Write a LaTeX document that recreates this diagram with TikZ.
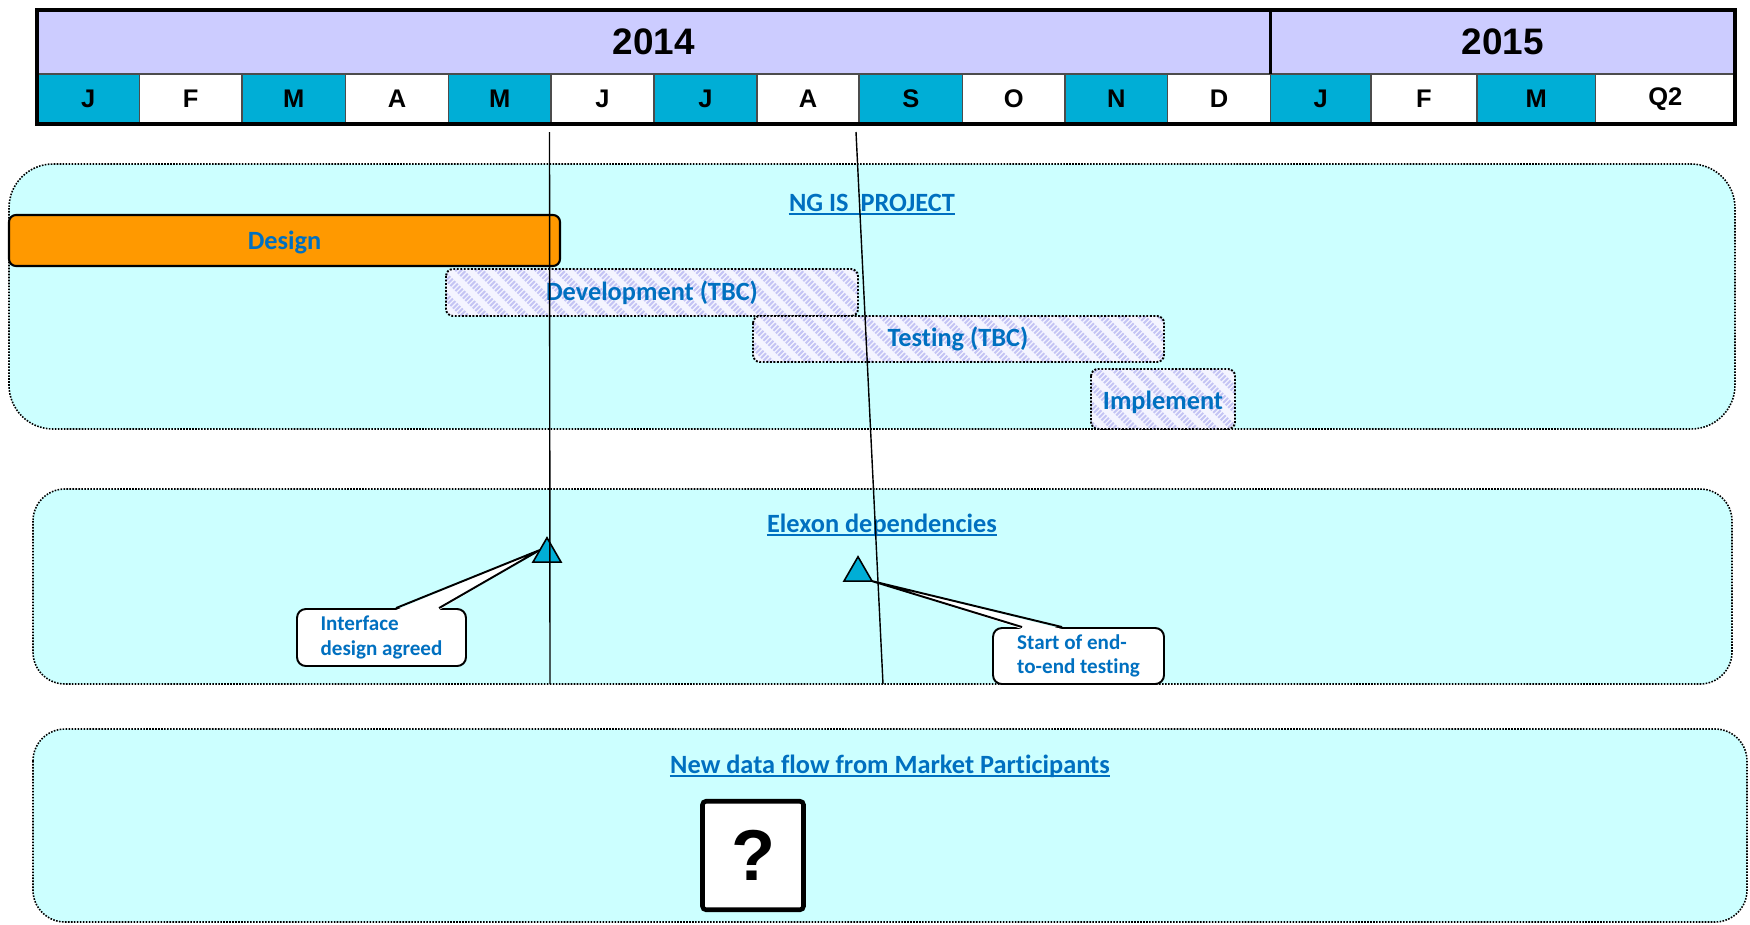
\documentclass[tikz,border=0pt]{standalone}
\usepackage{fontspec}
\setmainfont{Carlito}[Ligatures=NoCommon]
\newfontfamily\hdrfont{Liberation Sans}
\usetikzlibrary{shapes.geometric,patterns.meta,calc}

\definecolor{yearbg}{HTML}{CCCCFF}
\definecolor{cellblue}{HTML}{00AED6}
\definecolor{panelbg}{HTML}{CCFFFF}
\definecolor{designbg}{HTML}{FF9900}
\definecolor{hatch}{HTML}{C4C4F4}
\definecolor{hatchbg}{HTML}{F4F4FF}
\definecolor{textblue}{HTML}{0070C0}

\tikzset{
  monthlbl/.style={font=\hdrfont\bfseries\fontsize{14.5}{14.5}\selectfont},
  yearlbl/.style={font=\hdrfont\bfseries\fontsize{21}{21}\selectfont},
  panel/.style={fill=panelbg, line width=0.9pt, dash pattern=on 0.9pt off 0.8pt, rounded corners=#1},
  bartext/.style={text=textblue, anchor=base, font=\bfseries\fontsize{15}{15}\selectfont},
  tbcbar/.style={preaction={fill=hatchbg}, pattern={Lines[angle=-45,distance=8pt,line width=4pt]},
    pattern color=hatch, line width=1.1pt, dash pattern=on 1.1pt off 0.9pt, rounded corners=4pt},
  paneltitle/.style={text=textblue, anchor=base, inner sep=0pt, font=\bfseries\fontsize{15}{15}\selectfont},
  milestone/.style={regular polygon, regular polygon sides=3, fill=cellblue, draw, line width=0.9pt,
    minimum size=0.65cm, inner sep=0pt, outer sep=0pt},
  calloutbox/.style={draw, fill=white, line width=1.1pt, rounded corners=5pt, align=left, text=textblue,
    font=\bfseries\fontsize{12}{14}\selectfont, inner sep=0pt},
}

\begin{document}
\begin{tikzpicture}[x=0.02cm, y=-0.02cm]
\useasboundingbox (0,0) rectangle (1750,924);

% time line header
\fill[yearbg] (37,10) rectangle (1735,74);
\foreach \xa/\xb/\mn/\cl [count=\i] in {37/139.5/J/cellblue, 139.5/242/F/white, 242/345.5/M/cellblue,
    345.5/448.5/A/white, 448.5/551/M/cellblue, 551/654/J/white, 654/757/J/cellblue, 757/859/A/white,
    859/962.5/S/cellblue, 962.5/1065/O/white, 1065/1167.5/N/cellblue, 1167.5/1270.5/D/white,
    1270.5/1371/J/cellblue, 1371/1477/F/white, 1477/1595.5/M/cellblue, 1595.5/1735/Q2/white}{
  \draw[gray!60!black, line width=1pt, fill=\cl] (\xa,74) rectangle (\xb,124);
  \node[monthlbl] (mon\i) at ({(\xa+\xb)/2},99) {\mn};
}
\draw[line width=1.2pt] (1270.5,10) -- (1270.5,74);
\draw[line width=2.4pt] (37,10) rectangle (1735,124);
\node[yearlbl] (y2014) at (653.75,42) {2014};
\node[yearlbl] (y2015) at (1502.75,42) {2015};

% swim lanes
\draw[panel=0.88cm] (9,164) rectangle (1735,429);
\draw[panel=0.64cm] (33,489) rectangle (1732,684);
\draw[panel=0.64cm] (33,729) rectangle (1747,922);

\node[paneltitle] (ngis) at (872,211) {NG IS\ \ PROJECT};
\node[paneltitle] (elexon) at (882,532) {Elexon dependencies};
\node[paneltitle] (newflow) at (890,773) {New data flow from Market Participants};
\foreach \t in {ngis,elexon,newflow}
  \draw[textblue, line width=1pt] ($(\t.base west)+(0,3)$) -- ($(\t.base east)+(0,3)$);

% project bars
\draw[fill=designbg, line width=1.2pt, rounded corners=4pt] (9,215) rectangle (560,266);
\node[bartext] (design) at (284.5,249) {Design};
\draw[tbcbar] (446,269) rectangle (858,316);
\node[bartext] (dev) at (652,300) {Development (TBC)};
\draw[tbcbar] (753,316) rectangle (1164,362);
\node[bartext] (test) at (958,346) {Testing (TBC)};
\draw[tbcbar] (1091,369) rectangle (1235,429);
\node[bartext] (impl) at (1163,409) {Implement};

% milestones
\node[milestone] (ms1) at (547,554) {};
\node[milestone] (ms2) at (858,573) {};

\node[calloutbox, minimum width=3.38cm, minimum height=1.14cm] (cb1) at (381.5,637.5) {Interface\\design agreed};
\node[calloutbox, minimum width=3.42cm, minimum height=1.12cm] (cb2) at (1078.5,656) {Start of end-\\to-end testing};

\fill[white] ($(cb1.north west)+(100,2)$) -- (ms1.side 1) -- ($(cb1.north west)+(143,2)$) -- cycle;
\draw[line width=1.1pt] ($(cb1.north west)+(100,0)$) -- (ms1.side 1) -- ($(cb1.north west)+(143,0)$);
\fill[white] ($(cb2.north west)+(30,2)$) -- (ms2.corner 3) -- ($(cb2.north west)+(70,2)$) -- cycle;
\draw[line width=1.1pt] ($(cb2.north west)+(30,0)$) -- (ms2.corner 3) -- ($(cb2.north west)+(70,0)$);

% today lines
\draw[line width=0.8pt] (549.5,132) -- (550,684);
\draw[line width=0.8pt] (856,132) -- (883,684);

\node[draw, line width=2.6pt, fill=white, rounded corners=2pt, minimum width=2.02cm, minimum height=2.17cm,
  font=\hdrfont\bfseries\fontsize{41}{41}\selectfont] (qbox) at (753,855.5) {?};
\end{tikzpicture}
\end{document}
